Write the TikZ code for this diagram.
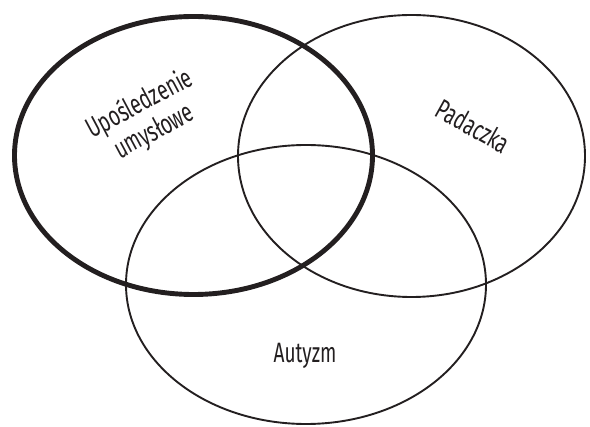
\documentclass[tikz,border=0pt]{standalone}
\usepackage{fontspec}
\setmainfont[FakeStretch=0.68]{Fira Sans}
\usetikzlibrary{shapes.geometric}
\definecolor{ink}{HTML}{231F20}
\tikzset{
  set/.style={ellipse, draw=ink, line width=1.9pt, inner sep=0pt},
  thickset/.style={set, line width=4.9pt},
  lbl/.style={text=ink, font=\fontsize{28}{31}\selectfont, align=center, inner sep=0pt}
}
\begin{document}
\begin{tikzpicture}[x=1pt,y=-1pt]
\useasboundingbox (0,0) rectangle (590,427);
\node[set, minimum width=347pt, minimum height=282pt] (pad) at (411.5,156) {};
\node[set, minimum width=360pt, minimum height=279pt] (aut) at (306,284.5) {};
\node[thickset, minimum width=358pt, minimum height=278pt] (upo) at (193.5,155.5) {};
\node[lbl, rotate=28] (tupo) at (147,118) {Upośledzenie\\umysłowe};
\node[lbl, rotate=-29] (tpad) at (473,126) {Padaczka};
\node[lbl] (taut) at (305,356) {Autyzm};
\end{tikzpicture}
\end{document}
